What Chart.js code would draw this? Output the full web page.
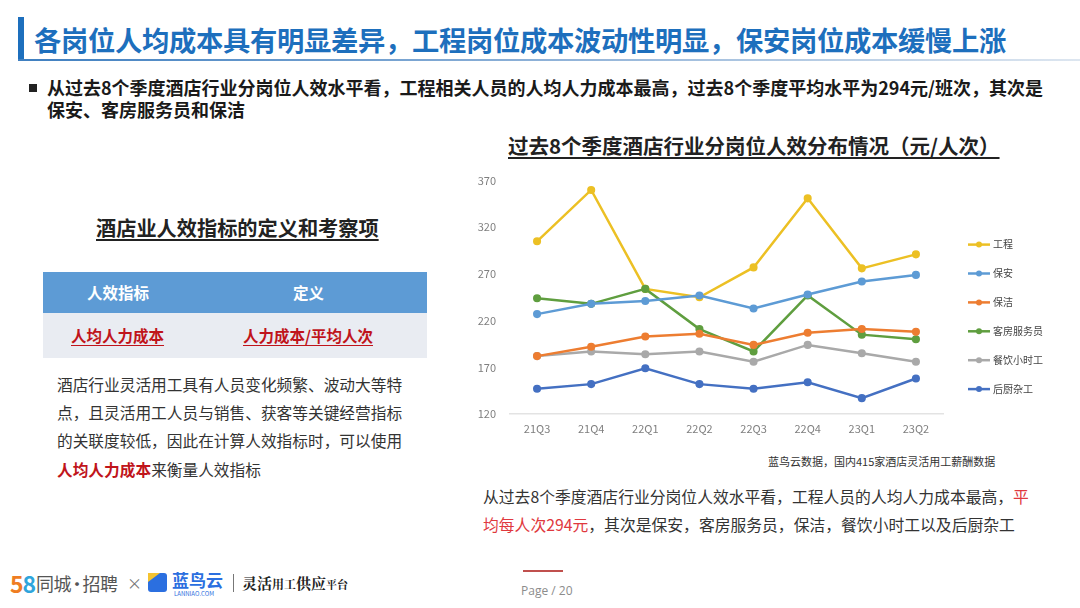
<!DOCTYPE html>
<html>
<head>
<meta charset="utf-8">
<script src="https://cdn.jsdelivr.net/npm/chart.js@4"></script>
<style>
  html,body{margin:0;padding:0;background:#fff;}
  body{width:1080px;height:608px;position:relative;overflow:hidden;font-family:"Noto Sans CJK SC","Noto Sans",sans-serif;color:#222;}
  .abs{position:absolute;white-space:nowrap;}
  #titlebar{left:18px;top:17px;width:6px;height:43px;background:#1d6fbd;}
  #titleline{left:18px;top:59px;width:1062px;height:2px;background:linear-gradient(90deg,#3f7fc0 0%,#8fb2d8 50%,#dde6f0 100%);}
  #title{left:34px;top:19px;font-size:27.3px;font-weight:bold;color:#1d6fbd;line-height:40px;letter-spacing:-0.3px;}
  #bullet{left:29px;top:84px;width:8px;height:8px;background:#222;}
  #btext{left:47px;top:76px;font-size:18px;font-weight:bold;line-height:22px;color:#1a1a1a;}
  #ltitle{left:96px;top:214px;font-size:20.2px;font-weight:bold;text-decoration:underline;text-underline-offset:3px;line-height:28px;}
  #thead{left:43px;top:272px;width:384px;height:41px;background:#5d9bd5;}
  #trow{left:43px;top:313px;width:384px;height:45px;background:#e9ecf2;}
  .th{color:#fff;font-weight:bold;font-size:15.5px;line-height:41px;top:272px;}
  .tr{color:#c0141b;font-weight:bold;font-size:15.5px;line-height:45px;top:313px;text-decoration:underline;text-underline-offset:3px;}
  #para{left:57px;top:371px;font-size:15.7px;line-height:28.2px;color:#333;}
  .red{color:#c0141b;font-weight:bold;}
  #ctitle{left:508px;top:131px;font-size:20.5px;font-weight:bold;text-decoration:underline;text-underline-offset:3px;line-height:28px;}
  #src{left:768px;top:452px;font-size:11px;color:#333;line-height:18px;}
  #bottom{left:483px;top:483px;font-size:15.8px;line-height:28px;color:#333;}
  #pgline{left:523px;top:570px;width:40px;height:2px;background:#c0504d;}
  #pg{left:521px;top:582px;font-size:12px;color:#8c8c8c;font-family:"Open Sans","Noto Sans",sans-serif;}
  #chartwrap{left:470px;top:160px;width:610px;height:290px;}
</style>
</head>
<body>
<div class="abs" id="titlebar"></div>
<div class="abs" id="titleline"></div>
<div class="abs" id="title">各岗位人均成本具有明显差异，工程岗位成本波动性明显，保安岗位成本缓慢上涨</div>
<div class="abs" id="bullet"></div>
<div class="abs" id="btext">从过去8个季度酒店行业分岗位人效水平看，工程相关人员的人均人力成本最高，过去8个季度平均水平为294元/班次，其次是<br>保安、客房服务员和保洁</div>

<div class="abs" id="ltitle">酒店业人效指标的定义和考察项</div>
<div class="abs" id="thead"></div>
<div class="abs" id="trow"></div>
<div class="abs th" style="left:87px;">人效指标</div>
<div class="abs th" style="left:293px;">定义</div>
<div class="abs tr" style="left:71px;">人均人力成本</div>
<div class="abs tr" style="left:243px;">人力成本/平均人次</div>
<div class="abs" id="para">酒店行业灵活用工具有人员变化频繁、波动大等特<br>点，且灵活用工人员与销售、获客等关键经营指标<br>的关联度较低，因此在计算人效指标时，可以使用<br><span class="red">人均人力成本</span>来衡量人效指标</div>

<div class="abs" id="ctitle">过去8个季度酒店行业分岗位人效分布情况（元/人次）</div>
<div class="abs" id="chartwrap"><canvas id="c" width="610" height="290"></canvas></div>
<div class="abs" id="src">蓝鸟云数据，国内415家酒店灵活用工薪酬数据</div>
<div class="abs" id="bottom">从过去8个季度酒店行业分岗位人效水平看，工程人员的人均人力成本最高，<span style="color:#e0383e">平<br>均每人次294元</span>，其次是保安，客房服务员，保洁，餐饮小时工以及后厨杂工</div>

<!-- footer -->
<div class="abs" style="left:10px;top:568px;font-size:23px;font-weight:bold;line-height:30px;letter-spacing:-1px;"><span style="color:#ef7d22">5</span><span style="color:#2fa5dc">8</span></div>
<div class="abs" style="left:36px;top:570px;font-size:18px;line-height:26px;color:#555;letter-spacing:-0.5px;">同城<span style="margin:0 -3px">·</span>招聘</div>
<div class="abs" style="left:127px;top:571px;font-size:15px;line-height:24px;color:#777;">×</div>
<div class="abs" style="left:148px;top:573px;width:19px;height:19px;background:#2b6fe0;border-radius:3px;"></div>
<div class="abs" style="left:148px;top:573px;width:0;height:0;border-top:9px solid #f5c330;border-right:12px solid transparent;"></div>
<div class="abs" style="left:172px;top:567px;font-size:17px;line-height:26px;color:#2b6fe0;font-weight:bold;">蓝鸟云</div>
<div class="abs" style="left:174px;top:590px;font-size:6px;line-height:8px;color:#2b6fe0;">LANNIAO.COM</div>
<div class="abs" style="left:233px;top:574px;width:1px;height:18px;background:#777;"></div>
<div class="abs" style="left:242px;top:572px;font-size:15px;line-height:22px;color:#222;font-family:'Noto Serif CJK SC','DejaVu Serif',serif;font-weight:bold;">灵活<span style="font-size:12px">用工</span>供应<span style="font-size:11px">平台</span></div>
<div class="abs" id="pgline"></div>
<div class="abs" id="pg">Page / 20</div>

<script>
const categories = ['21Q3','21Q4','22Q1','22Q2','22Q3','22Q4','23Q1','23Q2'];
const seriesNames = ['工程','保安','保洁','客房服务员','餐饮小时工','后厨杂工'];
const engineering = [305, 360, 254, 245, 277, 351, 276, 291];
const security    = [227, 238, 241, 247, 233, 248, 262, 269];
const cleaning    = [182, 192, 203, 206, 194, 207, 211, 208];
const housekeeping= [244, 238, 254, 211, 187, 247, 205, 200];
const catering    = [182, 187, 184, 187, 176, 194, 185, 176];
const kitchen     = [147, 152, 169, 152, 147, 154, 137, 158];
const yTicks = [120, 170, 220, 270, 320, 370];

const colors = ['#ecc024','#5d9bd5','#ed7d31','#5f9e3f','#a9a9a9','#4470c2'];
const allData = [engineering, security, cleaning, housekeeping, catering, kitchen];

const datasets = seriesNames.map((n,i)=>({
  label:n, data:allData[i], borderColor:colors[i], backgroundColor:colors[i],
  borderWidth:2.5, pointRadius:2.8, pointHoverRadius:2.8, tension:0, order: i===0?6:i
}));

const legendPlugin = {
  id:'sideLegend',
  afterDraw(chart){
    const ctx = chart.ctx, ca = chart.chartArea;
    const x0 = ca.right + 25, y0 = ca.top + 64, step = 28.9;
    ctx.save();
    chart.data.datasets.forEach((ds,i)=>{
      const y = y0 + i*step;
      ctx.strokeStyle = ds.borderColor; ctx.lineWidth = 2.5;
      ctx.beginPath(); ctx.moveTo(x0,y); ctx.lineTo(x0+22,y); ctx.stroke();
      ctx.fillStyle = ds.borderColor;
      ctx.beginPath(); ctx.arc(x0+11,y,3,0,Math.PI*2); ctx.fill();
      ctx.fillStyle = '#444'; ctx.font = '10px "Noto Sans CJK SC"';
      ctx.textBaseline = 'middle'; ctx.textAlign='left';
      ctx.fillText(ds.label, x0+25, y);
    });
    ctx.restore();
  }
};

new Chart(document.getElementById('c'), {
  type:'line',
  data:{labels:categories, datasets},
  options:{
    responsive:false, animation:false, devicePixelRatio:1,
    layout:{padding:{top:9,right:137,left:0,bottom:0}},
    plugins:{legend:{display:false}, tooltip:{enabled:false}},
    scales:{
      x:{
        offset:true,
        grid:{display:false, drawTicks:false},
        border:{color:'#e3e3e3', width:1.5},
        ticks:{color:'#7f7f7f', font:{size:11, family:'"Noto Sans CJK SC"'}, padding:8},
        afterFit(s){ s.height = 36; }
      },
      y:{
        min:120, max:370,
        afterBuildTicks(s){ s.ticks = yTicks.map(v=>({value:v})); },
        grid:{display:false, drawTicks:false},
        border:{display:false},
        ticks:{color:'#7f7f7f', font:{size:11, family:'"Noto Sans CJK SC"'}, padding:14},
        afterFit(s){ s.width = 40; }
      }
    }
  },
  plugins:[legendPlugin]
});
</script>
</body>
</html>
